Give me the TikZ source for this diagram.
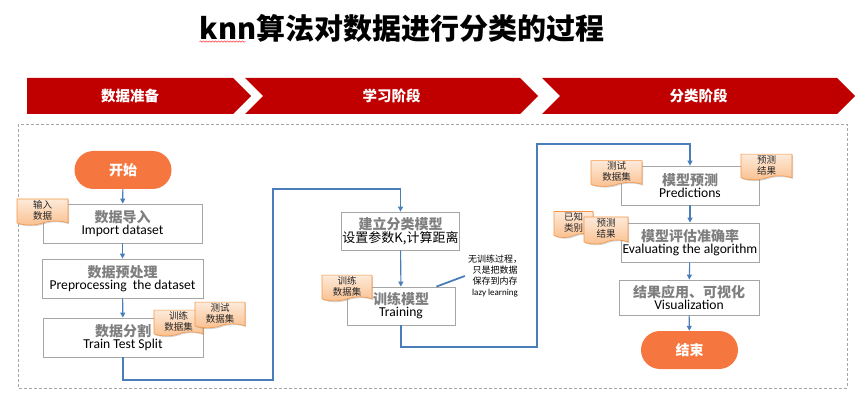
\documentclass[tikz,border=0pt]{standalone}
\usepackage{fontspec}
\setmainfont{Carlito}
\newfontfamily\cjk{Noto Sans CJK SC}
\usetikzlibrary{arrows.meta,positioning,shapes.symbols,shadows,decorations.pathmorphing}
\definecolor{phasered}{HTML}{C00000}
\definecolor{termorange}{HTML}{F5773F}
\definecolor{flowblue}{HTML}{4A7EBB}
\definecolor{boxgray}{HTML}{A6A6A6}
\definecolor{titlegray}{HTML}{7F7F7F}
\definecolor{noteedge}{HTML}{F79646}
\definecolor{notetop}{HTML}{FDEADA}
\definecolor{notebot}{HTML}{FAC08F}
\newcommand{\cn}[1]{{\cjk\bfseries\color{titlegray}\fontsize{14}{17}\selectfont #1}}
\newcommand{\en}[1]{{\fontsize{13.6}{15}\selectfont #1}}
\tikzset{
  box/.style     = {rectangle, draw=boxgray, line width=0.8pt, fill=white,
                    align=center, inner sep=1pt},
  termbox/.style = {rectangle, rounded corners=19pt, fill=termorange, text=white,
                    minimum width=97pt, minimum height=38pt,
                    font=\cjk\bfseries\fontsize{14}{16}\selectfont},
  phase/.style   = {signal, signal to=east, fill=phasered, text=white,
                    minimum height=36pt, inner sep=0pt,
                    font=\cjk\bfseries\fontsize{14.5}{16}\selectfont},
  note/.style    = {tape, tape bend top=none, tape bend height=4pt, draw=noteedge,
                    line width=0.6pt, top color=notetop, bottom color=notebot,
                    align=center, inner sep=1pt, text=black!85,
                    font=\cjk\fontsize{9.5}{11}\selectfont,
                    drop shadow={shadow xshift=1.2pt, shadow yshift=-1.2pt, opacity=0.35}},
  ar/.style      = {-{Triangle[length=5pt,width=5pt]}, draw=flowblue, line width=1.1pt}
}
\begin{document}
\begin{tikzpicture}[x=1pt, y=-1pt]
    \useasboundingbox (0,0) rectangle (862,414);
    % title and phases
    \node[inner sep=0pt, font=\cjk\bfseries\fontsize{29}{32}\selectfont] (title) at (402,28) {knn算法对数据进行分类的过程};
    \draw[red!80, line width=0.5pt, decorate, decoration={snake, amplitude=0.7pt, segment length=3pt}]
      ([yshift=-2.5pt]title.base west) -- ++(46,0);
    \node[phase, minimum width=224pt] (prep) at (130,96) {数据准备};
    \node[phase, signal from=west, minimum width=293pt] (learn) at (391.5,96) {学习阶段};
    \node[phase, signal from=west, minimum width=313pt] (classify) at (698.5,96) {分类阶段};
    \draw[boxgray, dash pattern=on 3pt off 2pt, line width=0.6pt] (18,124) rectangle (847,388);
    % data preparation
    \node[termbox] (start) at (123,170) {开始};
    \node[box, minimum width=159pt, minimum height=39pt] (imp) at (122.5,223.5) {\cn{数据导入}\\\en{Import dataset}};
    \node[box, minimum width=161pt, minimum height=39pt] (pre) at (122.5,278.5) {\cn{数据预处理}\\\en{Preprocessing\ \ the dataset}};
    \node[box, minimum width=160pt, minimum height=39pt] (split) at (123,337.5) {\cn{数据分割}\\\en{Train Test Split}};
    % learning
    \node[box, minimum width=115pt, minimum height=38pt] (build) at (400.5,231) {\cn{建立分类模型}\\{\cjk\fontsize{13}{16}\selectfont 设置参数K,计算距离}};
    \node[box, minimum width=108pt, minimum height=38pt] (train) at (401,306) {\cn{训练模型}\\\en{Training}};
    \node[align=center, inner sep=0pt, font=\cjk\fontsize{9}{11}\selectfont] (lazy) at (495,276) {无训练过程，\\只是把数据\\保存到内存\\{\rmfamily lazy learning}};
    % classification
    \node[box, minimum width=138pt, minimum height=39pt] (pred) at (690,185.5) {\cn{模型预测}\\\en{Predictions}};
    \node[box, minimum width=138pt, minimum height=39pt] (eval) at (690,242.5) {\cn{模型评估准确率}\\\en{Evaluating the algorithm}};
    \node[box, minimum width=140pt, minimum height=35pt] (vis) at (689,297.5) {\cn{结果应用、可视化}\\\en{Visualization}};
    \node[termbox] (end) at (689.5,350) {结束};
    % connectors
    \coordinate (bendA) at (273,380);
    \coordinate (bendB) at (273,189);
    \coordinate (bendC) at (537,347);
    \coordinate (bendD) at (537,144);
    \draw[ar] (start) -- (imp); \draw[ar] (imp) -- (pre); \draw[ar] (pre) -- (split);
    \draw[ar] (split.south) |- (bendA) -- (bendB) -| (build.north);
    \draw[ar] (build) -- (train);
    \draw[ar] (train.south) |- (bendC) -- (bendD) -| (pred.north);
    \draw[ar] (pred) -- (eval); \draw[ar] (eval) -- (vis); \draw[ar] (vis) -- (end);
    \draw[flowblue, line width=1.8pt] ([xshift=-3pt]lazy.west) -- ([xshift=-19pt]train.north east);
    % notes
    \node[note, minimum width=51pt, minimum height=26pt] (inData) at (42.5,210) {输入\\数据};
    \node[note, minimum width=49pt, minimum height=25pt] (trainSet) at (178.5,321) {训练\\数据集};
    \node[note, minimum width=50pt, minimum height=25pt] (testSet) at (220,313) {测试\\数据集};
    \node[note, minimum width=50pt, minimum height=25pt] (trainSetB) at (347,286) {训练\\数据集};
    \node[note, minimum width=51pt, minimum height=25pt] (testSetB) at (616.5,171.5) {测试\\数据集};
    \node[note, minimum width=51pt, minimum height=25pt] (predOut) at (766.5,165) {预测\\结果};
    \node[note, minimum width=39pt, minimum height=26pt] (known) at (573.5,222.5) {已知\\类别};
    \node[note, minimum width=44pt, minimum height=27pt] (predOutB) at (606,228.5) {预测\\结果};
\end{tikzpicture}
\end{document}
